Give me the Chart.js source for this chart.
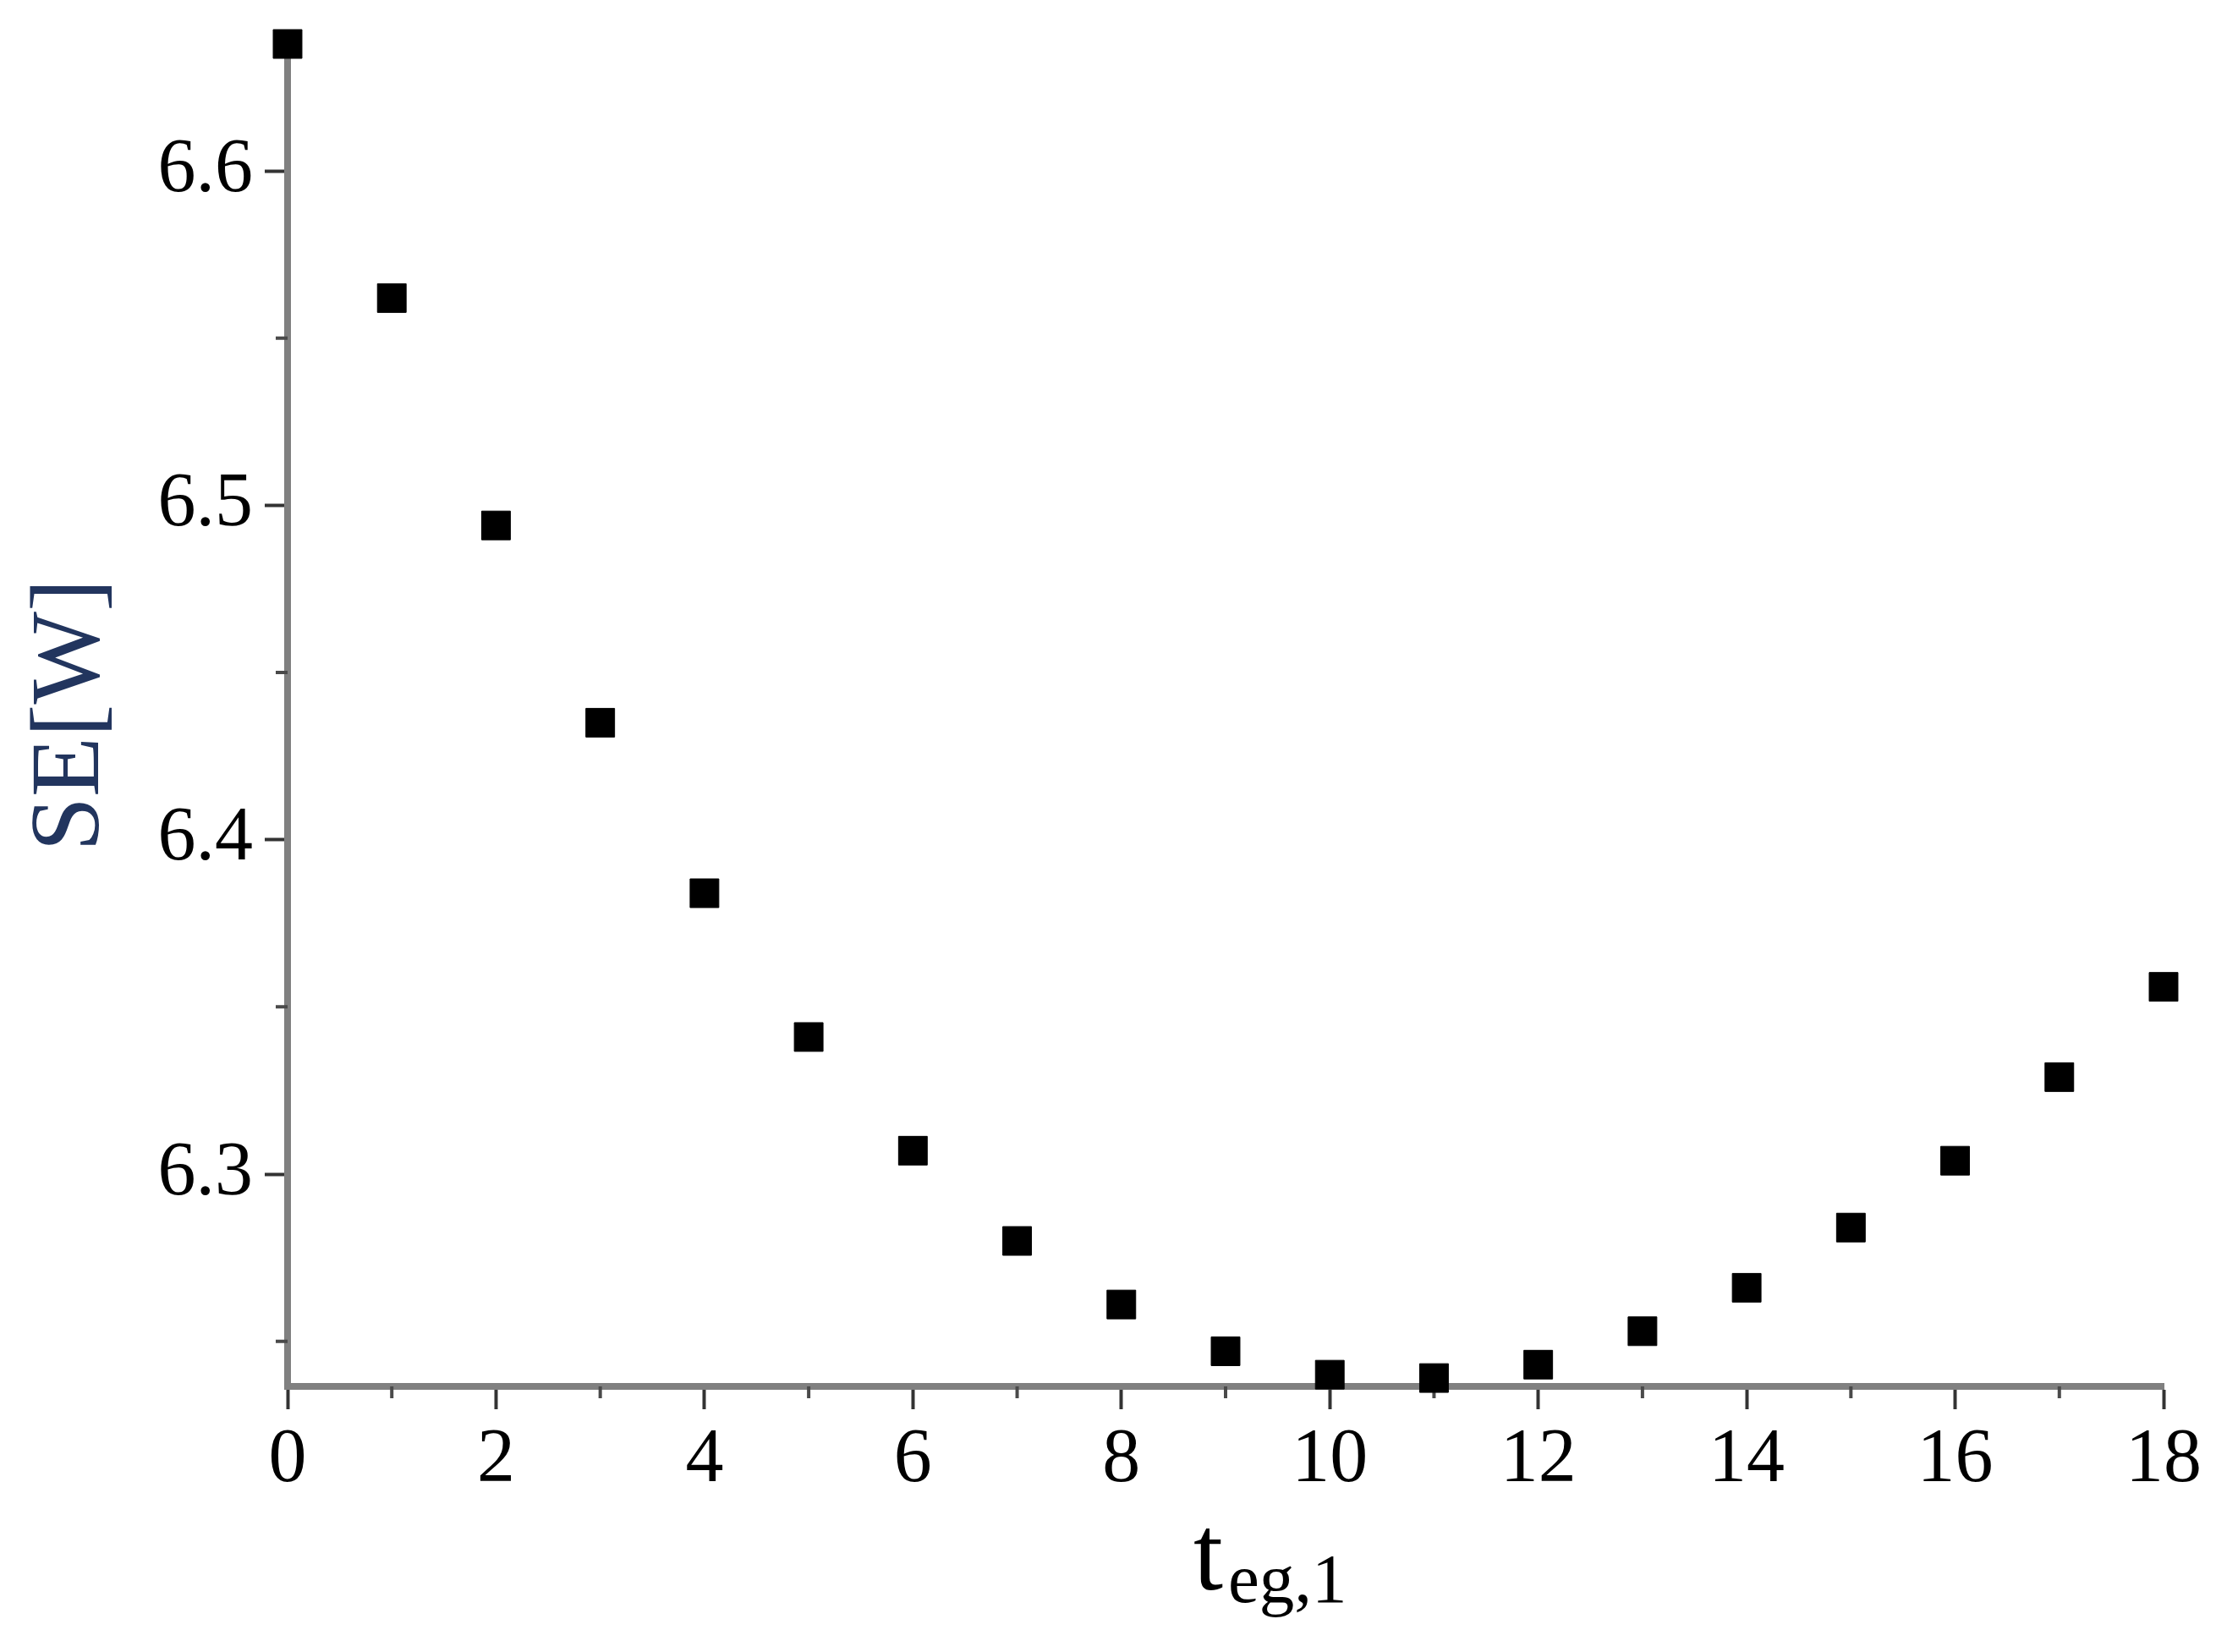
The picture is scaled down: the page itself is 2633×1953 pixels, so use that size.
<!DOCTYPE html>
<html>
<head>
<meta charset="utf-8">
<title>SE vs t_eg,1</title>
<script src="https://cdn.jsdelivr.net/npm/chart.js@4.4.0/dist/chart.umd.min.js"></script>
<style>
    html, body { margin: 0; padding: 0; background: #fff; }
    #wrap { position: relative; width: 2633px; height: 1953px; }
    #chart { display: block; }
    #xTitle {
        position: absolute; left: 1411px; top: 1774px;
        font-family: 'Liberation Serif', 'Times New Roman', serif;
        font-size: 126px; line-height: 1; color: #000; white-space: nowrap;
    }
    #xTitle span { font-size: 83px; line-height: 1; vertical-align: -15px; margin-left: 6px; }
</style>
</head>
<body>
<div id="wrap">
    <canvas id="chart" width="2633" height="1953"></canvas>
    <div id="xTitle">t<span>eg,1</span></div>
</div>
<script>
// values
const tegValues = [0, 1, 2, 3, 4, 5, 6, 7, 8, 9, 10, 11, 12, 13, 14, 15, 16, 17, 18];
const seValues = [6.638, 6.562, 6.494, 6.435, 6.384, 6.341, 6.307, 6.280, 6.261, 6.247,
                  6.240, 6.239, 6.243, 6.253, 6.266, 6.284, 6.304, 6.329, 6.356];

const xTickValues = [0, 2, 4, 6, 8, 10, 12, 14, 16, 18];
const xTickLabels = ['0', '2', '4', '6', '8', '10', '12', '14', '16', '18'];
const xMinorTicks = [1, 3, 5, 7, 9, 11, 13, 15, 17];
const yTickValues = [6.3, 6.4, 6.5, 6.6];
const yTickLabels = ['6.3', '6.4', '6.5', '6.6'];
const yMinorTicks = [6.25, 6.35, 6.45, 6.55];

const serif = "'Liberation Serif', 'Times New Roman', serif";

// short minor ticks between the labelled ones
const minorTicks = {
    id: 'minorTicks',
    beforeDatasetsDraw(chart) {
        const { ctx, chartArea, scales: { x, y } } = chart;
        ctx.save();
        ctx.strokeStyle = '#4a4a4a';
        ctx.lineWidth = 4;
        ctx.beginPath();
        xMinorTicks.forEach(v => {
            const px = x.getPixelForValue(v);
            ctx.moveTo(px, chartArea.bottom);
            ctx.lineTo(px, chartArea.bottom + 14);
        });
        yMinorTicks.forEach(v => {
            const py = y.getPixelForValue(v);
            ctx.moveTo(chartArea.left, py);
            ctx.lineTo(chartArea.left - 14, py);
        });
        ctx.stroke();
        ctx.restore();
    }
};

const points = tegValues.map((t, i) => ({ x: t, y: seValues[i] }));

new Chart(document.getElementById('chart').getContext('2d'), {
    type: 'scatter',
    data: {
        datasets: [{
            data: points,
            pointStyle: 'rect',
            pointRadius: 24,
            pointHoverRadius: 24,
            backgroundColor: '#000',
            borderColor: '#000',
            borderWidth: 1,
            clip: false
        }]
    },
    options: {
        responsive: false,
        devicePixelRatio: 1,
        animation: false,
        events: [],
        layout: { padding: { left: 0, top: 52, right: 75, bottom: 0 } },
        plugins: {
            legend: { display: false },
            tooltip: { enabled: false }
        },
        scales: {
            x: {
                type: 'linear',
                min: 0,
                max: 18,
                afterBuildTicks: s => { s.ticks = xTickValues.map(v => ({ value: v })); },
                afterFit: s => { s.height = 314; s.paddingLeft = 0; s.paddingRight = 0; },
                border: { display: true, color: '#808080', width: 8 },
                grid: {
                    drawOnChartArea: false,
                    drawTicks: true,
                    tickLength: 27,
                    tickWidth: 4,
                    tickColor: '#333'
                },
                ticks: {
                    padding: 7,
                    color: '#000',
                    font: { family: serif, size: 90 },
                    maxRotation: 0,
                    autoSkip: false,
                    callback: (v, i) => xTickLabels[i]
                }
            },
            y: {
                type: 'linear',
                min: 6.2365,
                max: 6.638,
                afterBuildTicks: s => { s.ticks = yTickValues.map(v => ({ value: v })); },
                afterFit: s => { s.width = 340; s.paddingTop = 0; s.paddingBottom = 0; },
                border: { display: true, color: '#808080', width: 8 },
                grid: {
                    drawOnChartArea: false,
                    drawTicks: true,
                    tickLength: 27,
                    tickWidth: 4,
                    tickColor: '#333'
                },
                ticks: {
                    padding: 14,
                    color: '#000',
                    font: { family: serif, size: 90 },
                    autoSkip: false,
                    callback: (v, i) => yTickLabels[i]
                },
                title: {
                    display: true,
                    text: 'SE[W]',
                    color: '#22355e',
                    font: { family: serif, size: 116 },
                    padding: { top: 16, bottom: 0 }
                }
            }
        }
    },
    plugins: [minorTicks]
});
</script>
</body>
</html>
